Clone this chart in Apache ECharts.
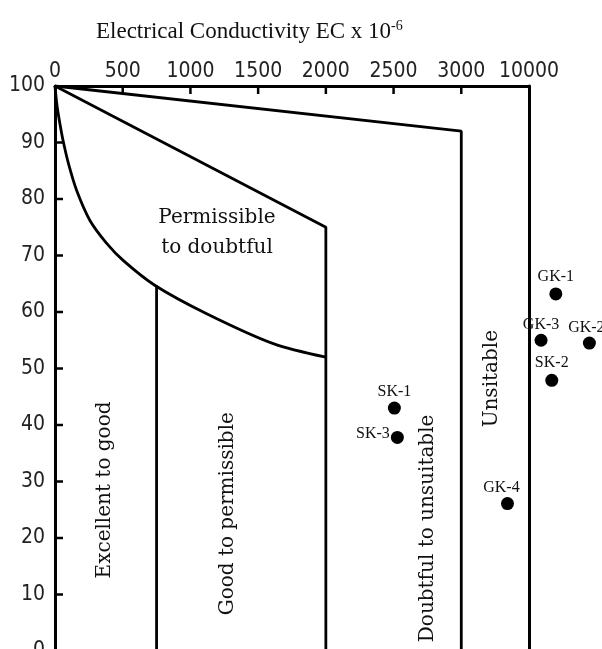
<!DOCTYPE html>
<html>
<head>
<meta charset="utf-8">
<script src="https://cdn.jsdelivr.net/npm/echarts@6/dist/echarts.min.js"></script>
<style>
html,body{margin:0;padding:0;background:#fff;}
#chart{width:602px;height:649px;}
</style>
</head>
<body>
<div id="chart"></div>
<script>
// ---- data ----
const xTickValues = [0, 500, 1000, 1500, 2000, 2500, 3000, 3500];
const xTickLabels = ['0', '500', '1000', '1500', '2000', '2500', '3000', '10000'];
const yTickValues = [0, 10, 20, 30, 40, 50, 60, 70, 80, 90, 100];

// class boundaries (EC position, Na%)
const boundaryTop = [[0, 100], [3000, 92], [3000, 0]];
const boundaryMid = [[0, 100], [2000, 75], [2000, 0]];
const boundaryCurve = [[0, 100], [15, 96.5], [35, 93.5], [60, 90.3], [100, 86.2], [160, 81.5], [258, 76.2], [380, 72.2], [505, 69.1], [739, 64.7], [1120, 59.7], [1612, 54.4], [2000, 52]];
const boundaryLow = [[750, 64.7], [750, 0]];

// zone names
const zoneNames = ['Permissible\nto doubtful', 'Excellent to good', 'Good to permissible', 'Doubtful to unsuitable', 'Unsitable'];
const zoneEC = [1196, 369, 1278, 2755, 3228];
const zoneNa = [74.1, 28.5, 24.3, 21.7, 48.2];
const zoneRotate = [0, 90, 90, 90, 90];

// samples
const sampleNames = ['GK-1', 'GK-2', 'GK-3', 'GK-4', 'SK-1', 'SK-2', 'SK-3'];
const sampleEC = [3698, 3946, 3589, 3341, 2506, 3668, 2528];
const sampleNa = [63.2, 54.5, 55.0, 26.1, 43.0, 47.9, 37.8];

// ---- chart ----
const chart = echarts.init(document.getElementById('chart'), null, {renderer: 'canvas'});
const serif = "'DejaVu Serif', serif";
const narrow = "'Liberation Sans Narrow', 'DejaVu Sans Condensed', sans-serif";

const lineStyle = {color: '#000', width: 2.8};
function boundary(data, smooth) {
  return {type: 'line', data: data, symbol: 'none', smooth: smooth || false,
    lineStyle: lineStyle, silent: true, z: 3, animation: false};
}

const labelPos = {
  'GK-1': {position: 'top', distance: 3},
  'GK-2': {position: 'top', distance: 1, offset: [-3, 0]},
  'GK-3': {position: 'top', distance: 1},
  'GK-4': {position: 'top', distance: 1, offset: [-6, 0]},
  'SK-1': {position: 'top', distance: 2},
  'SK-2': {position: 'top', distance: 3},
  'SK-3': {position: 'left', distance: 1, offset: [0, -4]}
};

// inside tick marks drawn through the axis scales
const tickData = [];
xTickValues.slice(1, 7).forEach(v => tickData.push([v, 100, 0]));
yTickValues.slice(1, 10).forEach(v => tickData.push([0, v, 1]));

chart.setOption({
  backgroundColor: '#fff',
  animation: false,
  title: {
    text: '{a|Electrical Conductivity EC x 10}{b|-6}',
    left: 91, top: 14,
    textStyle: {
      fontWeight: 'normal',
      rich: {
        a: {fontFamily: "'Liberation Serif', serif", fontSize: 23, fontWeight: 'normal', color: '#111'},
        b: {fontFamily: "'Liberation Serif', serif", fontSize: 14, fontWeight: 'normal', color: '#111', verticalAlign: 'top', padding: [0, 0, 12, 0]}
      }
    }
  },
  grid: {left: 55, top: 86, width: 474, height: 565, containLabel: false, outerBoundsMode: 'none'},
  xAxis: {
    type: 'value', position: 'top', min: 0, max: 3500, interval: 500,
    axisLine: {show: true, onZero: false, lineStyle: {color: '#000', width: 3}},
    axisTick: {show: false},
    axisLabel: {
      margin: 4, color: '#222', fontFamily: narrow, fontSize: 21,
      formatter: function (v) { return xTickLabels[xTickValues.indexOf(v)]; }
    },
    splitLine: {show: false}
  },
  yAxis: [{
    type: 'value', min: 0, max: 100, interval: 10,
    axisLine: {show: true, onZero: false, lineStyle: {color: '#000', width: 3}},
    axisTick: {show: false},
    axisLabel: {margin: 10, color: '#222', fontFamily: narrow, fontSize: 21,
      formatter: function (v) { return yTickValues.indexOf(v) >= 0 ? String(v) : ''; }},
    splitLine: {show: false}
  }, {
    type: 'value', min: 0, max: 100, position: 'right',
    axisLine: {show: true, onZero: false, lineStyle: {color: '#000', width: 3}},
    axisTick: {show: false}, axisLabel: {show: false}, splitLine: {show: false}
  }],
  series: [
    boundary(boundaryTop),
    boundary(boundaryMid),
    boundary(boundaryCurve, 0.3),
    boundary(boundaryLow),
    {
      type: 'custom', z: 6,
      data: tickData,
      renderItem: function (params, api) {
        const p = api.coord([api.value(0), api.value(1)]);
        const vertical = api.value(2) === 0;
        return {
          type: 'rect',
          shape: vertical ? {x: p[0] - 1.25, y: p[1], width: 2.5, height: 8}
                          : {x: p[0], y: p[1] - 1.25, width: 8, height: 2.5},
          style: {fill: '#000'}
        };
      }
    },
    {
      type: 'scatter', symbolSize: 0, silent: true, z: 4,
      itemStyle: {opacity: 1},
      data: zoneNames.map((n, i) => ({
        value: [zoneEC[i], zoneNa[i]],
        label: {show: true, formatter: n, rotate: zoneRotate[i], position: 'inside',
          fontFamily: serif, fontSize: 20, lineHeight: 30, color: '#111', align: 'center', verticalAlign: 'middle'}
      }))
    },
    {
      type: 'scatter', symbol: 'circle', symbolSize: 13, clip: false, z: 5,
      itemStyle: {color: '#000', opacity: 1},
      data: sampleNames.map((n, i) => ({
        value: [sampleEC[i], sampleNa[i]],
        label: Object.assign({show: true, formatter: n, fontFamily: "'Liberation Serif', serif",
          fontSize: 16, color: '#111'}, labelPos[n])
      }))
    }
  ]
});
</script>
</body>
</html>
